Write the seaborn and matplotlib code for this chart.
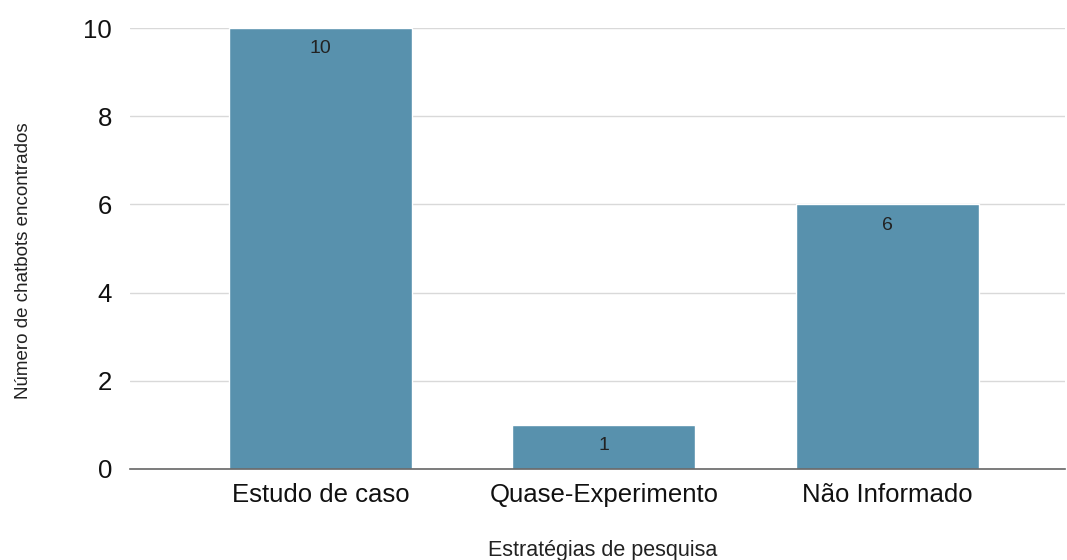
import matplotlib
matplotlib.use("Agg")
import matplotlib.pyplot as plt
import seaborn as sns
import pandas as pd

categories = ["Estudo de caso", "Quase-Experimento", "Não Informado"]
values = [10, 1, 6]
y_ticks = [0, 2, 4, 6, 8, 10]

sns.set_theme(style="white")
plt.rcParams['font.family'] = ['Liberation Sans', 'DejaVu Sans']

df = pd.DataFrame({"cat": categories, "val": values})

fig = plt.figure(figsize=(10.67, 5.6), dpi=100)
ax = fig.add_axes([0.1218, 0.1625, 0.876, 0.7875])

sns.barplot(data=df, x="cat", y="val", color="#5891ad", saturation=1, width=0.645, ax=ax, zorder=3)

ax.set_ylim(0, 10)
ax.set_yticks(y_ticks)
ax.set_xlim(-0.672, 2.626)
ax.grid(axis="y", color="#d9d9d9", linewidth=1, zorder=0)
for s in ["top", "right", "left"]:
    ax.spines[s].set_visible(False)
ax.spines["bottom"].set_color("#666666")
ax.spines["bottom"].set_linewidth(1.2)
ax.spines["bottom"].set_zorder(4)
ax.tick_params(axis="both", length=0, labelsize=18.5, colors="#111111")
ax.tick_params(axis="y", pad=13)
ax.tick_params(axis="x", pad=10)

for c in ax.containers:
    ax.bar_label(c, padding=-21, fontsize=14, color="#222222")

ax.set_xlabel("Estratégias de pesquisa", fontsize=15.5, color="#222222", labelpad=24)
ax.set_ylabel("Número de chatbots encontrados", fontsize=13.5, color="#222222", labelpad=37)
ax.xaxis.label.set_x(0.506)
ax.yaxis.label.set_y(0.472)

fig.savefig("out.png", dpi=100)
